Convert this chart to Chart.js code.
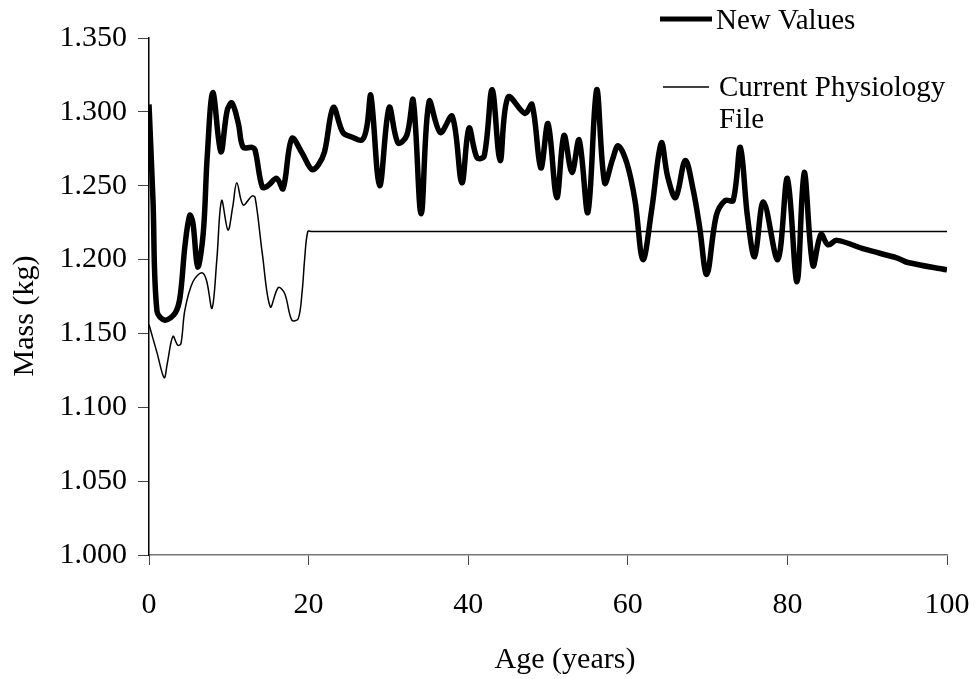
<!DOCTYPE html>
<html>
<head>
<meta charset="utf-8">
<script src="https://cdn.jsdelivr.net/npm/chart.js@4"></script>
<style>
  body { margin: 0; background: #fff; }
  #wrap { width: 977px; height: 679px; position: relative; }
</style>
</head>
<body>
<div id="wrap"><canvas id="myChart"></canvas></div>
<script>
  // New Values (thick line)
  var newAges = [0, 0.5, 1.0, 2.0, 3.3, 3.9, 4.5, 5.1, 5.5, 6.1, 6.8, 7.3, 8.0, 9.0, 9.8, 10.4, 11.2, 11.8, 12.9, 13.3,
    14.2, 14.9, 16.0, 16.8, 17.9, 19.2, 20.4, 21.2, 22.0, 23.1, 24.3, 25.4, 26.7, 27.3, 27.8, 28.9, 30.1, 31.2, 32.3,
    33.1, 34.1, 35.1, 36.5, 38.0, 39.2, 40.1, 41.1, 42.0, 43.0, 44.0, 45.0, 47.1, 48.0, 49.1, 50.0, 51.1, 52.0, 53.0,
    53.9, 55.0, 56.1, 57.1, 58.1, 58.8, 59.9, 60.9, 61.9, 63.0, 64.2, 65.0, 66.0, 67.2, 68.2, 69.0, 69.9, 71.1, 72.2,
    73.2, 74.1, 75.0, 75.9, 77.0, 78.8, 80.0, 81.2, 82.1, 83.2, 84.2, 85.1, 86.2, 89.7, 93.8, 95.1, 100];
  var newMass = [1.305, 1.240, 1.165, 1.159, 1.164, 1.175, 1.209, 1.230, 1.225, 1.195, 1.218, 1.270, 1.313, 1.273, 1.301, 1.306, 1.292, 1.276, 1.276, 1.274,
    1.249, 1.250, 1.255, 1.248, 1.282, 1.272, 1.261, 1.264, 1.273, 1.303, 1.286, 1.283, 1.281, 1.290, 1.311, 1.250, 1.303, 1.279, 1.284,
    1.308, 1.231, 1.307, 1.286, 1.297, 1.252, 1.289, 1.269, 1.270, 1.315, 1.267, 1.310, 1.299, 1.305, 1.262, 1.292, 1.242, 1.284, 1.259,
    1.281, 1.232, 1.315, 1.252, 1.268, 1.277, 1.265, 1.240, 1.200, 1.234, 1.279, 1.256, 1.242, 1.267, 1.247, 1.222, 1.190, 1.230, 1.240,
    1.240, 1.276, 1.229, 1.202, 1.239, 1.200, 1.255, 1.185, 1.259, 1.196, 1.217, 1.210, 1.213, 1.207, 1.201, 1.198, 1.193];

  // Current Physiology File (thin line)
  var curAges = [0, 1.0, 1.9, 2.3, 3.0, 3.6, 4.0, 4.5, 5.5, 6.6, 7.2, 7.9, 8.5, 9.1, 9.9, 10.5, 11.0, 11.8, 12.9, 13.3,
    14.2, 15.2, 16.2, 17.0, 17.9, 18.7, 19.2, 19.5, 19.9, 20.4, 100];
  var curMass = [1.156, 1.137, 1.120, 1.130, 1.148, 1.142, 1.143, 1.166, 1.185, 1.191, 1.186, 1.167, 1.200, 1.240, 1.220, 1.236, 1.252, 1.237, 1.243, 1.242,
    1.204, 1.168, 1.181, 1.177, 1.159, 1.160, 1.179, 1.200, 1.219, 1.219, 1.219];

  var xTicks = [0, 20, 40, 60, 80, 100];
  var yTicks = [1.000, 1.050, 1.100, 1.150, 1.200, 1.250, 1.300, 1.350];

  var serif = '"Liberation Serif", "Times New Roman", serif';

  function toPoints(xs, ys) {
    var pts = [];
    for (var i = 0; i < xs.length; i++) pts.push({ x: xs[i], y: ys[i] });
    return pts;
  }

  // legend and axis titles, drawn where the reference has them
  var extraText = {
    id: 'extraText',
    afterDraw: function (chart) {
      var c = chart.ctx;
      c.save();
      c.fillStyle = '#000';
      c.strokeStyle = '#000';
      c.lineCap = 'butt';

      c.lineWidth = 5;
      c.beginPath(); c.moveTo(660, 19); c.lineTo(712, 19); c.stroke();
      c.lineWidth = 1.5;
      c.beginPath(); c.moveTo(663, 87); c.lineTo(709, 87); c.stroke();

      c.font = '29px ' + serif;
      c.textAlign = 'left';
      c.textBaseline = 'alphabetic';
      c.fillText('New Values', 716, 29);
      c.fillText('Current Physiology', 719, 96);
      c.fillText('File', 719, 128);

      c.font = '30px ' + serif;
      c.textAlign = 'center';
      c.fillText('Age (years)', 565, 668);

      c.translate(33, 316);
      c.rotate(-Math.PI / 2);
      c.fillText('Mass (kg)', 0, 0);
      c.restore();
    }
  };

  var ctx = document.getElementById('myChart').getContext('2d');
  var chart = new Chart(ctx, {
    type: 'line',
    data: {
      datasets: [{
        label: 'New Values',
        data: toPoints(newAges, newMass),
        borderColor: '#000',
        borderWidth: 5.5,
        pointRadius: 0,
        tension: 0.35,
        fill: false
      }, {
        label: 'Current Physiology File',
        data: toPoints(curAges, curMass),
        borderColor: '#000',
        borderWidth: 1.5,
        pointRadius: 0,
        tension: 0.35,
        fill: false
      }]
    },
    options: {
      responsive: true,
      maintainAspectRatio: false,
      animation: false,
      layout: { padding: { left: 0, top: 38, right: 30, bottom: 0 } },
      plugins: {
        legend: { display: false },
        tooltip: { enabled: false }
      },
      scales: {
        x: {
          type: 'linear',
          min: 0,
          max: 100,
          afterFit: function (s) { s.height = 124; s.paddingLeft = 0; s.paddingRight = 0; },
          afterBuildTicks: function (s) { s.ticks = xTicks.map(function (v) { return { value: v }; }); },
          border: { color: '#777', width: 1.5 },
          grid: { drawOnChartArea: false, drawTicks: true, tickLength: 10, color: '#444' },
          ticks: { color: '#000', padding: 22, maxRotation: 0, font: { family: serif, size: 30 } }
        },
        y: {
          min: 1.0,
          max: 1.35,
          afterFit: function (s) { s.width = 149; s.paddingTop = 0; s.paddingBottom = 0; },
          afterBuildTicks: function (s) { s.ticks = yTicks.map(function (v) { return { value: v }; }); },
          border: { color: '#000', width: 1.5 },
          grid: { drawOnChartArea: false, drawTicks: true, tickLength: 11, color: '#444' },
          ticks: {
            color: '#000',
            padding: 11,
            font: { family: serif, size: 30 },
            callback: function (v) { return v.toFixed(3); }
          }
        }
      }
    },
    plugins: [extraText]
  });
</script>
</body>
</html>
